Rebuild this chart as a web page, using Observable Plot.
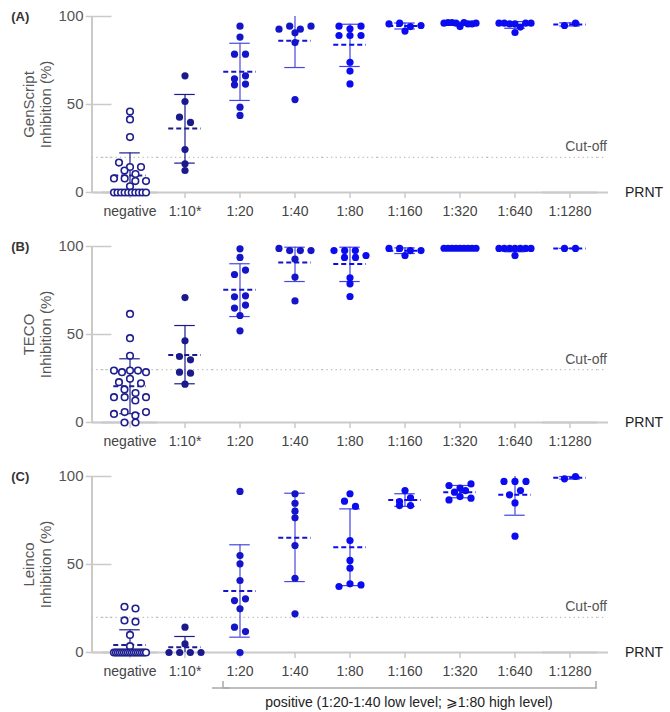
<!DOCTYPE html>
<html>
<head>
<meta charset="utf-8">
<script src="https://cdn.jsdelivr.net/npm/d3@7"></script>
<script src="https://cdn.jsdelivr.net/npm/@observablehq/plot@0.6"></script>
<style>
html, body { margin: 0; padding: 0; background: #fff; }
#chart { width: 670px; height: 712px; overflow: hidden; background: #fff; }
#chart svg { display: block; }
</style>
</head>
<body>
<div id="chart"></div>
<script>
// ---------- data ----------
const categories = ["negative", "1:10*", "1:20", "1:40", "1:80", "1:160", "1:320", "1:640", "1:1280"];
const groupOf = ["neg", "n10", "low", "low", "high", "high", "high", "high", "high"];
const yTicks = [0, 50, 100];

// Panel A: GenScript
const genscriptPoints = [
  [46, 41.5, 31.5, 17, 14.5, 14.5, 12.5, 10.5, 8, 8, 6.5, 6.5, 3.5, 0, 0, 0, 0, 0, 0, 0, 0, 0, 0],
  [66.3, 51.7, 42.8, 39.8, 24.4, 16.3, 12.5],
  [94.5, 88.3, 78.6, 78.6, 64.6, 66.3, 61.2, 61.6, 48.5, 43.8],
  [92.8, 94.5, 92.8, 94.5, 90.7, 85.2, 52.8],
  [94.5, 93, 94.5, 89.2, 89.2, 89.2, 74, 69, 61.7],
  [95.8, 91.7, 96.2, 94.3, 94.9],
  [96.2, 96.6, 96.6, 96.2, 94.3, 96.6, 95.8, 95.8, 96.2],
  [96.2, 96.2, 95.8, 95.8, 90.9, 94, 96.2, 96.2],
  [94.9, 96.2]
];
const genscriptMean = [9.7, 36.4, 68.6, 86.2, 83.9, 94.6, 96.0, 95.2, 95.5];
const genscriptLow  = [-3.1, 16.7, 52.3, 71, 71.6, 92.9, 95.3, 93.3, 94.6];
const genscriptHigh = [22.5, 55.7, 84.8, 101.4, 95.6, 96.3, 96.7, 97.1, 96.4];

// Panel B: TECO
const tecoPoints = [
  [61.7, 47.9, 37.9, 29.5, 28.6, 29.5, 29.5, 28.6, 22.9, 24.8, 22.3, 18.8, 16.7, 14.4, 14.4, 12.5, 14.4, 4.9, 5.9, 4, 5.9, 0, 0],
  [71, 46.4, 37.5, 35.6, 28.6, 28, 21.8],
  [98.7, 93.8, 84.1, 86.6, 71.4, 72, 65, 66.7, 60.8, 52.1],
  [98.9, 97.7, 97.7, 97.7, 92.8, 82.6, 69.1],
  [97.7, 97.7, 97.7, 93.8, 93.8, 94.9, 82.2, 78.8, 71.6],
  [98.9, 94.9, 98.9, 97.7, 97.7],
  [99, 99, 99, 99, 99, 99, 99, 99, 99],
  [98.9, 98.9, 98.9, 98.9, 98.9, 98.9, 98.9, 94.9],
  [98.9, 98.9]
];
const tecoMean = [20.6, 38.4, 75.4, 90.9, 90, 97.6, 99, 98.4, 98.9];
const tecoLow  = [5, 22, 60.2, 80.1, 80.1, 96, 99, 97, 98.9];
const tecoHigh = [36.2, 55.1, 90.2, 99.6, 99.6, 99.2, 99, 99.8, 98.9];

// Panel C: Leinco
const leincoPoints = [
  [26, 25, 18.2, 17.5, 10, 3.6, 0, 0, 0, 0, 0, 0, 0, 0, 0, 0, 0, 0, 0, 0, 0, 0, 0],
  [14.4, 4.9, 0, 0, 0, 0],
  [91.5, 55.1, 50.4, 40.9, 29.5, 30.5, 24.8, 14.4, 11.9, 0],
  [90.2, 84.8, 80.3, 76.5, 60.8, 42.2, 22],
  [90.2, 86, 83, 63.6, 52.3, 47.9, 37.5, 39, 38.4],
  [92, 85.8, 87.9, 83.5, 83.5],
  [94.9, 91.1, 86.7, 93.4, 88.6, 95.8, 92, 87.7],
  [97.2, 97.2, 97.2, 89.6, 92, 85, 66.1],
  [98.7, 100]
];
const leincoMean = [4.2, 3, 35, 65.2, 59.8, 86.7, 91.1, 89.6, 99.3];
const leincoLow  = [-4.5, -3.1, 8.7, 40.3, 38, 83, 87.9, 78, 98.5];
const leincoHigh = [12.9, 9.1, 61.2, 90.5, 81.6, 90.2, 94.9, 101.2, 100];

const cutoffs = [20, 30, 20];
const panelLetters = ["(A)", "(B)", "(C)"];
const panelLabels = ["GenScript\nInhibition (%)", "TECO\nInhibition (%)", "Leinco\nInhibition (%)"];
const xUnit = "PRNT";
const cutoffText = "Cut-off";
const bracketCats = ["1:20", "1:40", "1:80", "1:160", "1:320", "1:640", "1:1280"];
const captionText = "positive (1:20-1:40 low level; \u2A7E1:80 high level)";

// ---------- styles ----------
const dotColor = {neg: "#1f1f8f", n10: "#1a1a8c", low: "#1414c8", high: "#0b0bf0"};
const barColor = {neg: "#1f1f8f", n10: "#1a1a8c", low: "#4848e0", high: "#4040ec"};
const axisGray = "#cacaca";
const FONT = "'Liberation Sans', Arial, sans-serif";
const ML = 99.25, MR = 71.25, BW = (670 - ML - MR) / categories.length;

// GraphPad-like scatter layout: points binned into rows, each row centred
const ROW_PX = 5.5, STEP = 11, SPAN = 32;
function rowLayout(options) {
  return Plot.initializer(options, function (data, facets, channels, scales, dimensions) {
    const V = channels.y.value;
    const Y = Float64Array.from(V, (v) => scales.y(v));
    const X = new Float64Array(Y.length);
    const cx = (dimensions.marginLeft + dimensions.width - dimensions.marginRight) / 2;
    for (const I of (facets || [d3.range(Y.length)])) {
      const idx = Array.from(I).sort((a, b) => Y[a] - Y[b] || a - b);
      const rows = [];
      let row = null;
      for (const i of idx) {
        if (!row || Y[i] - Y[row[0]] > ROW_PX) { row = []; rows.push(row); }
        row.push(i);
      }
      for (const r of rows) {
        r.sort((a, b) => a - b);
        const n = r.length;
        const step = n > 1 ? Math.min(STEP, SPAN / (n - 1)) : 0;
        r.forEach((i, k) => { X[i] = cx + (k - (n - 1) / 2) * step; });
      }
    }
    return {data, facets, channels: {x: {value: X}, y: {value: Y}}};
  });
}

function panel(p) {
  const first = categories[0], last = categories[categories.length - 1];
  const pts = [];
  p.points.forEach((arr, k) => arr.forEach((v) => pts.push({cat: categories[k], grp: groupOf[k], v})));
  const stats = categories.map((c, k) => ({cat: c, grp: groupOf[k], mean: p.mean[k], lo: p.low[k], hi: p.high[k]}));
  const capInset = BW / 2 - 10.5, meanInset = BW / 2 - 16.5;
  const marks = [
    // y axis line, ticks, labels
    Plot.ruleX([0], {fx: () => first, x: null, y1: () => 0, y2: () => 100, dx: -(BW / 2 + 10.25), stroke: axisGray, strokeWidth: 2}),
    Plot.ruleY(yTicks, {fx: () => first, y: (d) => d, insetLeft: -16.25, insetRight: BW - 10, stroke: axisGray, strokeWidth: 1.5}),
    Plot.text(yTicks, {fx: () => first, y: (d) => d, text: (d) => String(d), frameAnchor: "left", textAnchor: "end", dx: -19, fontSize: 15, fill: "#555"}),
    // x axis line and ticks
    Plot.ruleY(categories, {fx: (d) => d, y: () => 0, stroke: axisGray, strokeWidth: 2}),
    Plot.ruleY([first], {fx: (d) => d, y: () => 0, insetLeft: -10.25, stroke: axisGray, strokeWidth: 2}),
    Plot.ruleY([last], {fx: (d) => d, y: () => 0, insetRight: -11, stroke: axisGray, strokeWidth: 2}),
    Plot.ruleX(categories, {fx: (d) => d, x: null, y1: () => 0, y2: () => 0, insetBottom: -6, stroke: axisGray, strokeWidth: 1.5}),
    Plot.text(categories, {fx: (d) => d, text: (d) => d, frameAnchor: "bottom", lineAnchor: "middle", dy: 19.5, fontSize: 14, fill: "#444"}),
    Plot.text([xUnit], {fx: () => last, y: () => 0, frameAnchor: "right", textAnchor: "start", dx: 27.5, fontSize: 14, fill: "#222"}),
    // cut-off
    Plot.ruleY(categories, {fx: (d) => d, y: () => p.cutoff, stroke: "#bdbdbd", strokeWidth: 1.3, strokeDasharray: "1.3,3.2"}),
    Plot.ruleY([first], {fx: (d) => d, y: () => p.cutoff, insetLeft: -10.25, insetRight: BW - 10.25, stroke: "#bdbdbd", strokeWidth: 1.3, strokeDasharray: "1.3,3.2"}),
    Plot.ruleY([last], {fx: (d) => d, y: () => p.cutoff, insetLeft: BW, insetRight: -9.5, stroke: "#bdbdbd", strokeWidth: 1.3, strokeDasharray: "1.3,3.2"}),
    Plot.text([cutoffText], {fx: () => last, y: () => p.cutoff, frameAnchor: "right", textAnchor: "end", dx: 9.5, dy: -10.5, fontSize: 14, fill: "#555"}),
    // labels
    Plot.text([p.letter], {fx: () => first, frameAnchor: "top-left", textAnchor: "start", lineAnchor: "middle", dx: -(ML - 8), fontSize: 13, fontWeight: "bold", fill: "#333"}),
    Plot.text([p.label], {fx: () => first, frameAnchor: "left", textAnchor: "middle", lineAnchor: "middle", rotate: -90, dx: -(ML - 34), fontSize: 15, lineHeight: 1.13, fill: "#555"}),
    // mean ± SD
    Plot.ruleX(stats, {fx: "cat", x: null, y1: (d) => Math.max(0, d.lo), y2: (d) => Math.min(100, d.hi), stroke: (d) => barColor[d.grp], strokeWidth: 1.2}),
    Plot.ruleY(stats.filter((d) => d.hi <= 100), {fx: "cat", y: "hi", insetLeft: capInset, insetRight: capInset, stroke: (d) => barColor[d.grp], strokeWidth: 1.2}),
    Plot.ruleY(stats.filter((d) => d.lo >= 0), {fx: "cat", y: "lo", insetLeft: capInset, insetRight: capInset, stroke: (d) => barColor[d.grp], strokeWidth: 1.2}),
    Plot.ruleY(stats, {fx: "cat", y: "mean", insetLeft: meanInset, insetRight: meanInset, stroke: (d) => dotColor[d.grp], strokeWidth: 2, strokeDasharray: "5,3"}),
    // points
    Plot.dot(pts.filter((d) => d.grp === "neg"), rowLayout({fx: "cat", y: "v", r: 3.3, fill: "white", stroke: dotColor.neg, strokeWidth: 1.6})),
    Plot.dot(pts.filter((d) => d.grp !== "neg"), rowLayout({fx: "cat", y: "v", r: 3.6, fill: (d) => dotColor[d.grp], stroke: "none"}))
  ];
  if (p.bracket) {
    const bStroke = "#a8a8a8";
    marks.push(
      Plot.ruleY(bracketCats, {fx: (d) => d, y: () => 0, dy: 35.5, stroke: bStroke, strokeWidth: 1.5}),
      Plot.ruleY(["1:20"], {fx: (d) => d, y: () => 0, dy: 35.5, insetRight: BW - 17.5, insetLeft: 10.75, stroke: bStroke, strokeWidth: 1.5}),
      Plot.ruleX(["1:20"], {fx: (d) => d, x: null, y1: () => 0, y2: () => 0, insetTop: 29, insetBottom: -36, dx: -17, stroke: bStroke, strokeWidth: 1.5}),
      Plot.ruleX(["1:1280"], {fx: (d) => d, x: null, y1: () => 0, y2: () => 0, insetTop: 29, insetBottom: -36, dx: 26, stroke: bStroke, strokeWidth: 1.5}),
      Plot.text([captionText], {fx: () => "1:160", frameAnchor: "bottom", lineAnchor: "middle", dx: 4, dy: 50, fontSize: 14, fill: "#222"})
    );
  }
  return Plot.plot({
    width: 670,
    height: p.height,
    marginTop: 16,
    marginBottom: p.height - 192,
    marginLeft: ML,
    marginRight: MR,
    fx: {domain: categories, padding: 0, axis: null, label: null},
    y: {domain: [0, 100], axis: null},
    style: {fontFamily: FONT, fontSize: "14px", background: "#fff", color: "#444", overflow: "visible"},
    marks
  });
}

const chart = document.getElementById("chart");
chart.append(panel({letter: panelLetters[0], label: panelLabels[0], points: genscriptPoints, mean: genscriptMean, low: genscriptLow, high: genscriptHigh, cutoff: cutoffs[0], height: 230}));
chart.append(panel({letter: panelLetters[1], label: panelLabels[1], points: tecoPoints, mean: tecoMean, low: tecoLow, high: tecoHigh, cutoff: cutoffs[1], height: 230}));
chart.append(panel({letter: panelLetters[2], label: panelLabels[2], points: leincoPoints, mean: leincoMean, low: leincoLow, high: leincoHigh, cutoff: cutoffs[2], height: 252, bracket: true}));
</script>
</body>
</html>
